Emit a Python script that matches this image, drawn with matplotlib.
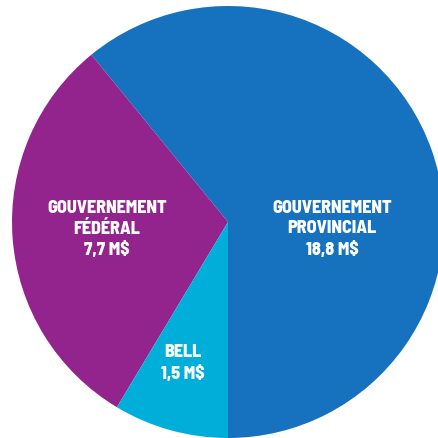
import matplotlib.pyplot as plt

# Wedge shares as drawn in the picture (percent of the circle)
sources = ['GOUVERNEMENT\nPROVINCIAL', 'GOUVERNEMENT\nFÉDÉRAL', 'BELL']
amounts = ['18,8 M$', '7,7 M$', '1,5 M$']
shares = [60.9, 30.5, 8.6]
colors = ['#1671BE', '#93238D', '#00AEDA']

plt.rcParams['font.family'] = ['Barlow Semi Condensed', 'DejaVu Sans']

fig = plt.figure(figsize=(4.38, 4.39), dpi=100)
ax = fig.add_axes([0, 0, 1, 1])

# Axes in pixel units: circle centre (228, 223) from top, radius 216
ax.pie(shares, colors=colors, startangle=270, counterclock=True,
       center=(228, 439 - 223), radius=216, frame=True,
       wedgeprops=dict(linewidth=0))
ax.set_xlim(0, 438)
ax.set_ylim(0, 439)
ax.set_aspect('equal')
ax.axis('off')

# label positions (pixel coords, from top)
label_pos = [(332, 229), (107, 229), (183, 363)]
for src, amt, (x, y) in zip(sources, amounts, label_pos):
    ax.text(x, 439 - y, f'{src}\n{amt}', ha='center', va='center',
            color='white', fontsize=13, fontweight=800, linespacing=1.3)

fig.savefig('out.png', dpi=100)
